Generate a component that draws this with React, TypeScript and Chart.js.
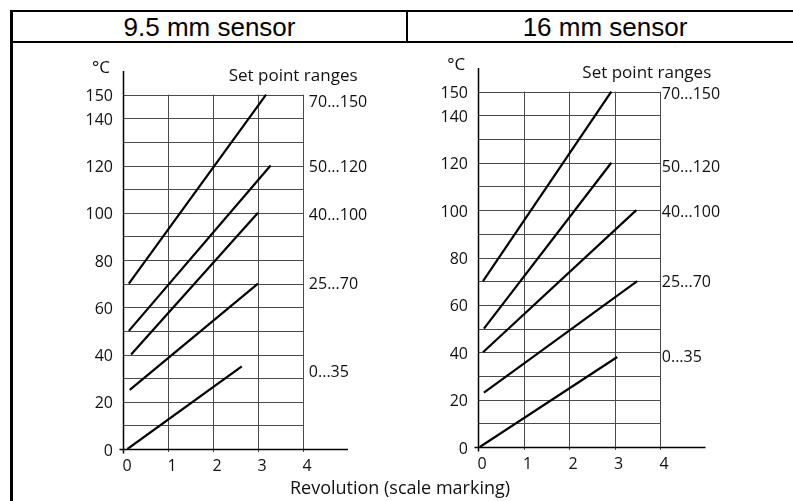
import React, { useEffect, useRef } from "react";
import { Chart, registerables } from "chart.js";

Chart.register(...registerables);

// ---------- data ----------
const rangeLabels = ["70...150", "50...120", "40...100", "25...70", "0...35"];
const yTickValues = [0, 20, 40, 60, 80, 100, 120, 140, 150];
const xTickValues = [0, 1, 2, 3, 4];
const gridYValues = [0, 10, 20, 30, 40, 50, 60, 70, 80, 90, 100, 110, 120, 130, 140, 150];
const gridXValues = [0, 1, 2, 3, 4];

// 9.5 mm sensor
const s95StartX = [0.13, 0.13, 0.18, 0.15, 0.1];
const s95StartY = [70, 50, 40, 25, 0];
const s95EndX = [3.18, 3.28, 3.0, 3.0, 2.64];
const s95EndY = [150, 120, 100, 70, 35];
const s95LabelY = [146.5, 119, 99, 69.5, 32.6];

// 16 mm sensor
const s16StartX = [0.11, 0.13, 0.11, 0.13, 0.04];
const s16StartY = [70, 50, 40, 23, 0];
const s16EndX = [2.93, 2.93, 3.48, 3.5, 3.06];
const s16EndY = [150, 120, 100, 70, 38];
const s16LabelY = [149, 118, 99, 69.6, 38];

const FONT = "'Open Sans', sans-serif";
const FONT_SIZE = 16;
const TITLE_SIZE = 17;

type Geo = {
  left: number;
  top: number;
  width: number;
  height: number;
  yAxisWidth: number;
  xAxisHeight: number;
  padTop: number;
  padRight: number;
};

type Props = {
  geo: Geo;
  startX: number[];
  startY: number[];
  endX: number[];
  endY: number[];
  labelY: number[];
  labelX: number;
  titleX: number;
  titleY: number;
  unitX: number;
  unitY: number;
};

function SensorChart(p: Props) {
  const ref = useRef<HTMLCanvasElement | null>(null);
  useEffect(() => {
    if (!ref.current) return;
    const g = p.geo;
    const plugin = {
      id: "gridBox",
      beforeDatasetsDraw(chart: any) {
        const { ctx } = chart;
        const x = chart.scales.x;
        const y = chart.scales.y;
        ctx.save();
        ctx.strokeStyle = "#4a4a4a";
        ctx.lineWidth = 1;
        gridYValues.forEach((v) => {
          const py = Math.round(y.getPixelForValue(v)) + 0.5;
          ctx.beginPath();
          ctx.moveTo(x.getPixelForValue(0), py);
          ctx.lineTo(x.getPixelForValue(4), py);
          ctx.stroke();
        });
        gridXValues.forEach((v) => {
          const px = Math.round(x.getPixelForValue(v)) + 0.5;
          ctx.beginPath();
          ctx.moveTo(px, y.getPixelForValue(0) + 3);
          ctx.lineTo(px, y.getPixelForValue(150));
          ctx.stroke();
        });
        ctx.strokeStyle = "#000";
        ctx.lineWidth = 1.5;
        const x0 = Math.round(x.getPixelForValue(0)) + 0.5;
        const y0 = Math.round(y.getPixelForValue(0)) + 0.5;
        ctx.beginPath();
        ctx.moveTo(x0, y0 + 4);
        ctx.lineTo(x0, y.getPixelForValue(160));
        ctx.stroke();
        ctx.beginPath();
        ctx.moveTo(x0 - 4, y0);
        ctx.lineTo(x.getPixelForValue(5), y0);
        ctx.stroke();
        ctx.restore();
      },
      afterDraw(chart: any) {
        const { ctx } = chart;
        const x = chart.scales.x;
        const y = chart.scales.y;
        ctx.save();
        ctx.fillStyle = "#111";
        ctx.font = `${FONT_SIZE}px ${FONT}`;
        ctx.textBaseline = "middle";
        ctx.textAlign = "left";
        rangeLabels.forEach((t, i) => {
          ctx.fillText(t, x.getPixelForValue(p.labelX), y.getPixelForValue(p.labelY[i]));
        });
        ctx.font = `${TITLE_SIZE}px ${FONT}`;
        ctx.textAlign = "center";
        ctx.fillText("Set point ranges", x.getPixelForValue(p.titleX), y.getPixelForValue(p.titleY));
        ctx.fillText("°C", x.getPixelForValue(p.unitX), y.getPixelForValue(p.unitY));
        ctx.restore();
      },
    };
    const datasets = rangeLabels.map((lab, i) => ({
      label: lab,
      data: [
        { x: p.startX[i], y: p.startY[i] },
        { x: p.endX[i], y: p.endY[i] },
      ],
      borderColor: "#000",
      borderWidth: 2.2,
      pointRadius: 0,
      fill: false,
      tension: 0,
    }));
    const tickFont = { family: FONT, size: FONT_SIZE };
    const chart = new Chart(ref.current, {
      type: "line",
      data: { datasets },
      plugins: [plugin],
      options: {
        animation: false,
        responsive: false,
        layout: { padding: { top: g.padTop, right: g.padRight, left: 0, bottom: 0 } },
        plugins: { legend: { display: false }, tooltip: { enabled: false } },
        scales: {
          x: {
            type: "linear",
            min: 0,
            max: 5,
            grid: { display: false, drawTicks: false },
            border: { display: false },
            afterBuildTicks: (s: any) => {
              s.ticks = xTickValues.map((v) => ({ value: v }));
            },
            afterFit: (s: any) => {
              s.height = g.xAxisHeight;
            },
            ticks: {
              padding: 8,
              labelOffset: 4,
              color: "#111",
              font: tickFont,
              maxRotation: 0,
              autoSkip: false,
            },
          },
          y: {
            type: "linear",
            min: 0,
            max: 160,
            grid: { display: false, drawTicks: false },
            border: { display: false },
            afterBuildTicks: (s: any) => {
              s.ticks = yTickValues.map((v) => ({ value: v }));
            },
            afterFit: (s: any) => {
              s.width = g.yAxisWidth;
            },
            ticks: {
              padding: 10,
              labelOffset: 2,
              color: "#111",
              font: tickFont,
              autoSkip: false,
            },
          },
        },
      } as any,
    });
    return () => chart.destroy();
  }, []);
  const g = p.geo;
  return (
    <canvas
      ref={ref}
      width={g.width}
      height={g.height}
      style={{ position: "absolute", left: g.left, top: g.top, width: g.width, height: g.height }}
    />
  );
}

const headerStyle: React.CSSProperties = {
  position: "absolute",
  top: 12,
  height: 30,
  lineHeight: "30px",
  fontFamily: "'Liberation Sans', Arial, sans-serif",
  fontSize: 26,
  textAlign: "center",
  color: "#000",
};

export default function App() {
  return (
    <div
      style={{
        position: "fixed",
        left: 0,
        top: 0,
        width: 793,
        height: 501,
        overflow: "hidden",
        background: "#fff",
      }}
    >
      {/* table borders */}
      <div style={{ position: "absolute", left: 10, top: 10, width: 800, height: 2, background: "#000" }} />
      <div style={{ position: "absolute", left: 10, top: 41, width: 800, height: 2, background: "#000" }} />
      <div style={{ position: "absolute", left: 10, top: 10, width: 3, height: 500, background: "#000" }} />
      <div style={{ position: "absolute", left: 406, top: 10, width: 2, height: 32, background: "#000" }} />
      <div style={{ ...headerStyle, left: 13, width: 393 }}>9.5 mm sensor</div>
      <div style={{ ...headerStyle, left: 408, width: 394 }}>16 mm sensor</div>

      <SensorChart
        geo={{ left: 11, top: 43, width: 396, height: 458, yAxisWidth: 112, xAxisHeight: 52, padTop: 28, padRight: 59 }}
        startX={s95StartX}
        startY={s95StartY}
        endX={s95EndX}
        endY={s95EndY}
        labelY={s95LabelY}
        labelX={4.13}
        titleX={3.78}
        titleY={157.8}
        unitX={-0.49}
        unitY={161}
      />
      <SensorChart
        geo={{ left: 408, top: 43, width: 385, height: 458, yAxisWidth: 70, xAxisHeight: 54, padTop: 25, padRight: 87.5 }}
        startX={s16StartX}
        startY={s16StartY}
        endX={s16EndX}
        endY={s16EndY}
        labelY={s16LabelY}
        labelX={4.04}
        titleX={3.71}
        titleY={158}
        unitX={-0.48}
        unitY={161.4}
      />
      <div
        style={{
          position: "absolute",
          left: 0,
          width: 800,
          top: 477,
          height: 20,
          lineHeight: "20px",
          textAlign: "center",
          fontFamily: FONT,
          fontSize: 18,
          color: "#111",
        }}
      >
        Revolution (scale marking)
      </div>
    </div>
  );
}
